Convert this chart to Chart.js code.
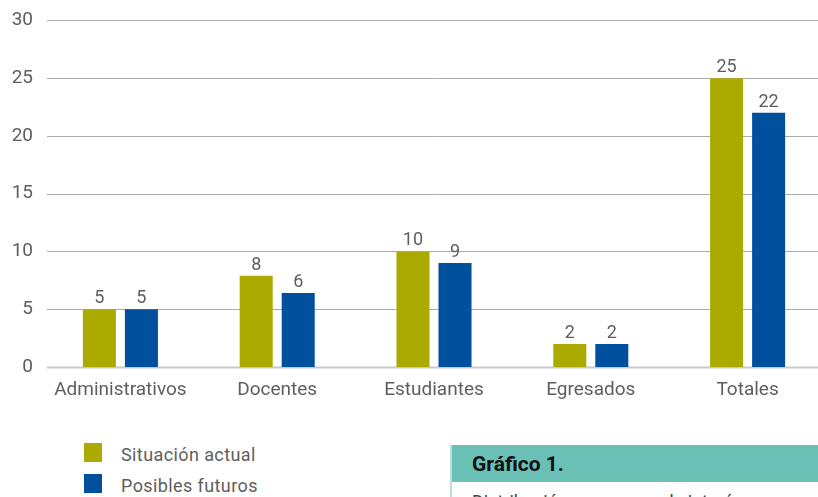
<!DOCTYPE html>
<html>
<head>
<meta charset="utf-8">
<script src="https://cdn.jsdelivr.net/npm/chart.js@4.4.0/dist/chart.umd.min.js"></script>
<style>
  html, body { margin: 0; padding: 0; background: #fff; overflow: hidden; width: 818px; height: 497px; }
  #wrap { position: absolute; left: 0; top: 0; width: 830px; height: 400px; }
  .leyenda { position: absolute; left: 84px; top: 443px; font-family: Roboto, sans-serif; font-size: 18px; color: #5e5e5e; letter-spacing: 0.4px; }
  .leyenda div { height: 31px; display: flex; align-items: flex-start; }
  .leyenda span.caja { display: inline-block; width: 18px; height: 19px; margin-right: 19px; }
  .leyenda span.txt { line-height: 20px; margin-top: 2px; }
  .ficha { position: absolute; left: 450px; top: 445px; width: 368px; height: 60px; border-left: 2px solid #b6dfd9; }
  .ficha .tit { background: #6bc0b6; height: 37px; line-height: 38px; padding-left: 20px;
                font-family: Roboto, sans-serif; font-weight: 700; font-size: 21px; color: #111; }
  .ficha .desc { padding-left: 20px; padding-top: 9px; font-family: Roboto, sans-serif; font-size: 18px; color: #444; }
</style>
</head>
<body>
<div id="wrap"><canvas id="grafico" width="830" height="400"></canvas></div>
<div class="leyenda" id="leyenda"></div>
<div class="ficha">
  <div class="tit">Gráfico 1.</div>
  <div class="desc">Distribución por grupos de interés</div>
</div>
<script>
// Datos del gráfico
const categorias = ['Administrativos', 'Docentes', 'Estudiantes', 'Egresados', 'Totales'];
const situacionActual = [5, 7.9, 10, 2, 25];
const posiblesFuturos = [5, 6.4, 9, 2, 22];
const ticksY = [0, 5, 10, 15, 20, 25, 30];

const VERDE = '#abaa00';
const AZUL = '#00509e';
const GRIS = '#5e5e5e';

// Rejilla horizontal dibujada desde x=47 hasta el borde
const rejilla = {
  id: 'rejilla',
  beforeDatasetsDraw(chart) {
    const { ctx, scales: { y } } = chart;
    ctx.save();
    ticksY.forEach(v => {
      const py = Math.round(y.getPixelForValue(v)) + 0.5;
      ctx.strokeStyle = v === 0 ? '#c8c8c8' : '#ababab';
      ctx.lineWidth = v === 0 ? 2 : 1;
      ctx.beginPath();
      ctx.moveTo(47, py);
      ctx.lineTo(chart.width, py);
      ctx.stroke();
    });
    ctx.restore();
  }
};

// Etiquetas de valor encima de cada barra
const etiquetas = {
  id: 'etiquetas',
  afterDatasetsDraw(chart) {
    const { ctx } = chart;
    ctx.save();
    ctx.font = '18px Roboto, sans-serif';
    ctx.fillStyle = GRIS;
    ctx.textAlign = 'center';
    ctx.textBaseline = 'alphabetic';
    chart.data.datasets.forEach((ds, i) => {
      chart.getDatasetMeta(i).data.forEach((bar, j) => {
        ctx.fillText(Math.round(ds.data[j]), bar.x, bar.y - 6);
      });
    });
    ctx.restore();
  }
};

const ctx = document.getElementById('grafico').getContext('2d');
const chart = new Chart(ctx, {
  type: 'bar',
  data: {
    labels: categorias,
    datasets: [
      { label: 'Situación actual', data: situacionActual, backgroundColor: VERDE,
        categoryPercentage: 0.536, barPercentage: 0.786 },
      { label: 'Posibles futuros', data: posiblesFuturos, backgroundColor: AZUL,
        categoryPercentage: 0.536, barPercentage: 0.786 }
    ]
  },
  options: {
    responsive: false,
    animation: false,
    layout: { padding: { top: 19, right: 4, left: 0, bottom: 0 } },
    plugins: { legend: { display: false }, tooltip: { enabled: false } },
    scales: {
      x: {
        grid: { display: false, drawTicks: false },
        border: { display: false },
        ticks: { color: GRIS, font: { family: 'Roboto, sans-serif', size: 19 }, padding: 12 },
        afterFit: s => { s.height = 33; }
      },
      y: {
        min: 0, max: 30,
        afterBuildTicks: s => { s.ticks = ticksY.map(v => ({ value: v })); },
        grid: { display: false, drawTicks: false },
        border: { display: false },
        ticks: { color: GRIS, font: { family: 'Roboto, sans-serif', size: 19 }, padding: 9 },
        afterFit: s => { s.width = 42; }
      }
    }
  },
  plugins: [rejilla, etiquetas]
});

// Leyenda vertical en HTML
document.getElementById('leyenda').innerHTML = chart.data.datasets.map(ds =>
  `<div><span class="caja" style="background:${ds.backgroundColor}"></span><span class="txt">${ds.label}</span></div>`
).join('');
</script>
</body>
</html>
